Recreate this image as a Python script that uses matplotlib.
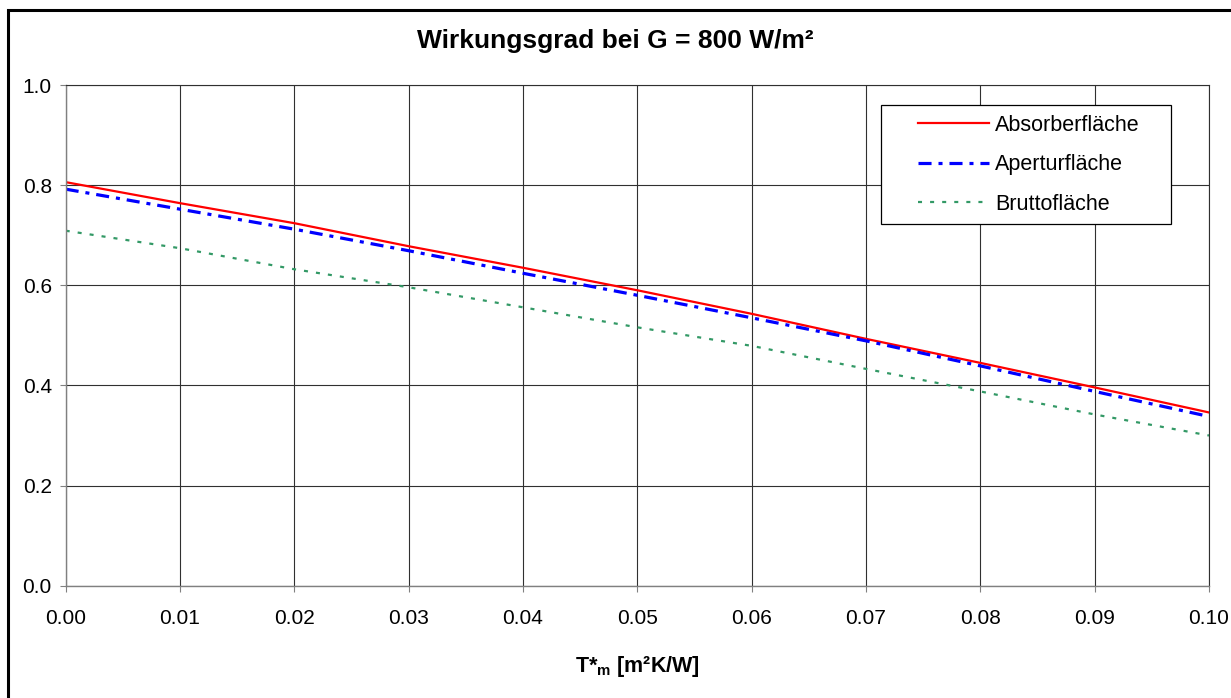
import numpy as np
import matplotlib
matplotlib.use("Agg")
from matplotlib import pyplot as plt
from matplotlib.patches import Rectangle
from matplotlib.lines import Line2D
from matplotlib.legend_handler import HandlerLine2D

plt.rcParams['font.family'] = ['Liberation Sans', 'DejaVu Sans']
plt.rcParams['mathtext.fontset'] = 'custom'
plt.rcParams['mathtext.rm'] = 'Liberation Sans'
plt.rcParams['mathtext.bf'] = 'Liberation Sans:bold'
plt.rcParams['lines.scale_dashes'] = False

# reduced temperature difference T*m [m2K/W]
t_m = [0.00, 0.01, 0.02, 0.03, 0.04, 0.05, 0.06, 0.07, 0.08, 0.09, 0.10]

# efficiency values
eta_absorber = [0.806, 0.764, 0.724, 0.678, 0.635, 0.590, 0.543, 0.493, 0.445, 0.396, 0.346]
eta_apertur = [0.792, 0.752, 0.712, 0.669, 0.624, 0.580, 0.535, 0.489, 0.439, 0.388, 0.338]
eta_brutto = [0.709, 0.674, 0.632, 0.596, 0.556, 0.516, 0.479, 0.433, 0.388, 0.342, 0.300]

labels = ['Absorberfläche', 'Aperturfläche', 'Bruttofläche']

W, H = 1231, 698
fig = plt.figure(figsize=(W / 100, H / 100), dpi=100)

# outer chart frame (right and bottom edge run off the picture)
fig.patches.append(Rectangle((7.5 / W, -0.1), 1.2, 1 - 10.5 / H + 0.1,
                             transform=fig.transFigure, fill=False,
                             lw=2.2, ec='black'))

ax = fig.add_axes([65.7 / W, 1 - 585.7 / H, 1143.3 / W, 500.7 / H])

ax.plot(t_m, eta_absorber, color='#FF0000', lw=1.6, label=labels[0])
ax.plot(t_m, eta_apertur, color='#0000FF', lw=2.3,
        dashes=(9.4, 5.0, 2.9, 5.0), label=labels[1])
ax.plot(t_m, eta_brutto, color='#339966', lw=1.6,
        dashes=(2.9, 5.8), label=labels[2])

ax.set_xlim(0, 0.1)
ax.set_ylim(0, 1.0)
ax.set_xticks(np.arange(0, 0.1001, 0.01))
ax.set_yticks(np.arange(0, 1.0001, 0.2))
ax.xaxis.set_major_formatter(matplotlib.ticker.FormatStrFormatter('%.2f'))
ax.yaxis.set_major_formatter(matplotlib.ticker.FormatStrFormatter('%.1f'))

ax.grid(True, color='#303030', lw=0.8)
ax.set_axisbelow(True)
for s in ['left', 'bottom']:
    ax.spines[s].set_color('#808080')
    ax.spines[s].set_linewidth(1.0)
for s in ['top', 'right']:
    ax.spines[s].set_color('#303030')
    ax.spines[s].set_linewidth(0.8)

ax.tick_params(axis='x', direction='out', length=4, width=0.8, color='#808080',
               labelsize=15, pad=12.5)
ax.tick_params(axis='y', direction='out', length=4.5, width=0.8, color='#808080',
               labelsize=15, pad=5.5)

ax.set_xlabel(r'T*$_\mathbf{m}$ [m²K/W]', fontsize=15.5, fontweight='bold',
              labelpad=19)

fig.text(615.5 / W, 1 - 41 / H, 'Wirkungsgrad bei G = 800 W/m²',
         ha='center', va='center', fontsize=19, fontweight='bold')

leg = ax.legend(loc='upper left', mode='expand',
                bbox_to_anchor=(0.713, 0.5, 0.2537, 0.46), borderaxespad=0,
                fontsize=15.5, handlelength=4.57, handletextpad=0.28,
                labelspacing=0.86, borderpad=0.45, fancybox=False,
                framealpha=1, edgecolor='black',
                handler_map={Line2D: HandlerLine2D(xpad=1.27)})
leg.get_frame().set_linewidth(0.9)

fig.savefig('out.png', dpi=100)
